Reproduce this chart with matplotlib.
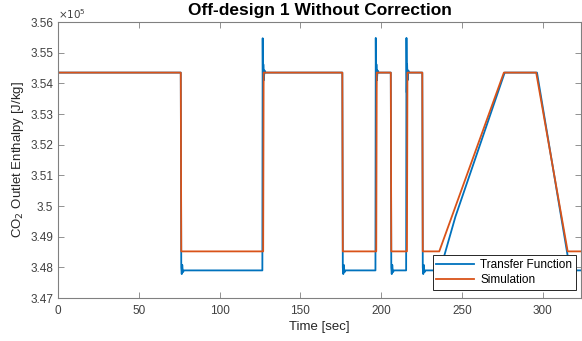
import matplotlib
matplotlib.use('Agg')
from matplotlib import pyplot as plt
from matplotlib.ticker import FuncFormatter

plt.rcParams['font.family'] = ['Liberation Sans', 'DejaVu Sans']

# Transfer function response (enthalpy in units of 1e5 J/kg)
tf_time = [0, 76, 76.3, 76.6, 76.9, 77.3, 78, 126.5, 126.7, 126.9, 127.1, 127.4, 127.8, 128.5,
           176, 176.3, 176.6, 176.9, 177.3, 178, 196.5, 196.7, 196.9, 197.1, 197.4, 197.8, 198.5,
           206, 206.3, 206.6, 206.9, 207.3, 208, 215.5, 215.7, 215.9, 216.1, 216.4, 216.8, 217.5,
           225.5, 225.8, 226.1, 226.4, 226.8, 227.5, 236.5, 246, 276.5, 296.5, 317, 324]
tf_value = [3.5435, 3.5435, 3.4800, 3.4778, 3.4808, 3.4784, 3.4790, 3.4790, 3.5547, 3.5370,
            3.5462, 3.5410, 3.5442, 3.5435,
            3.5435, 3.4800, 3.4778, 3.4808, 3.4784, 3.4790, 3.4790, 3.5548, 3.5370,
            3.5462, 3.5410, 3.5442, 3.5435,
            3.5435, 3.4800, 3.4778, 3.4808, 3.4784, 3.4790, 3.4790, 3.5548, 3.5370,
            3.5462, 3.5410, 3.5442, 3.5435,
            3.5435, 3.4800, 3.4778, 3.4808, 3.4784, 3.4790, 3.4790, 3.4965, 3.5435, 3.5435,
            3.4790, 3.4790]

# Simulation response
sim_time = [0, 76, 76.3, 127, 127.3, 176, 176.3, 197, 197.3, 206, 206.3, 216, 216.3,
            225.5, 225.8, 236, 276, 296, 315.5, 324]
sim_value = [3.5435, 3.5435, 3.4852, 3.4852, 3.5435, 3.5435, 3.4852, 3.4852, 3.5435,
             3.5435, 3.4852, 3.4852, 3.5435, 3.5435, 3.4852, 3.4852, 3.5435, 3.5435,
             3.4852, 3.4852]

x_ticks = [0, 50, 100, 150, 200, 250, 300]
y_ticks = [3.47, 3.48, 3.49, 3.50, 3.51, 3.52, 3.53, 3.54, 3.55, 3.56]

fig = plt.figure(figsize=(5.82, 3.41), dpi=100)
ax = fig.add_axes([58 / 582, 1 - 298 / 341, 524 / 582 - 0.001, 276 / 341])

ax.plot(tf_time, tf_value, color='#0072BD', lw=1.3, label='Transfer Function')
ax.plot(sim_time, sim_value, color='#D95319', lw=1.3, label='Simulation')

ax.set_xlim(0, 324)
ax.set_ylim(3.47, 3.56)
ax.set_xticks(x_ticks)
ax.set_yticks(y_ticks)
ax.yaxis.set_major_formatter(FuncFormatter(lambda v, p: '%g' % round(v, 2)))

grey = '#808080'
for s in ax.spines.values():
    s.set_color(grey)
    s.set_linewidth(0.8)
ax.tick_params(direction='in', length=4, width=0.6, color=grey, labelcolor='#404040',
               labelsize=8.5, top=True, right=True)
ax.tick_params(axis='x', pad=5)

ax.set_xlabel('Time [sec]', fontsize=9.5, color='#262626', labelpad=3)
ax.set_ylabel('CO$_2$ Outlet Enthalpy [J/kg]', fontsize=9.5, color='#262626', labelpad=3)
ax.set_title('Off-design 1 Without Correction', fontsize=12.5, fontweight='bold', pad=5)
ax.text(0, 1.005, r'$\times10^5$', transform=ax.transAxes, fontsize=7.5, color='#404040',
        ha='left', va='bottom')

leg = ax.legend(loc='lower right', bbox_to_anchor=(0.989, 0.029), borderaxespad=0,
                fontsize=8.5, fancybox=False, framealpha=1, edgecolor='#262626',
                handlelength=3.2, borderpad=0.3, labelspacing=0.3, handletextpad=0.5)
leg.get_frame().set_linewidth(0.7)

fig.savefig('out.png', dpi=100)
